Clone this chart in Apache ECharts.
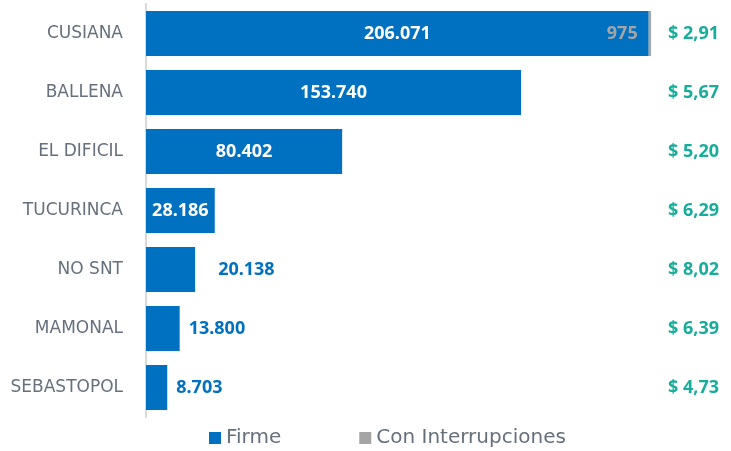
<!DOCTYPE html>
<html><head><meta charset="utf-8">
<script src="https://cdn.jsdelivr.net/npm/echarts@6/dist/echarts.min.js"></script>
<style>html,body{margin:0;padding:0;background:#fff}#c{width:731px;height:451px}</style>
</head><body><div id="c"></div>
<script>
const categories = ['CUSIANA','BALLENA','EL DIFICIL','TUCURINCA','NO SNT','MAMONAL','SEBASTOPOL'];
const firme = [206071, 153740, 80402, 28186, 20138, 13800, 8703];
const interrupciones = [975, null, null, null, null, null, null];
const prices = ['$ 2,91','$ 5,67','$ 5,20','$ 6,29','$ 8,02','$ 6,39','$ 4,73'];

const fmt = v => String(v).replace(/\B(?=(\d{3})+(?!\d))/g, '.');
const FONT = 'Noto Sans';
const TFONT = 'DejaVu Sans';
const chart = echarts.init(document.getElementById('c'));
chart.setOption({
  animation: false,
  textStyle: { fontFamily: FONT },
  grid: { left: 146, right: 71, top: 4, bottom: 34 },
  xAxis: { type: 'value', min: 0, max: 210700, show: false },
  yAxis: [
    { type: 'category', data: categories, inverse: true,
      axisLine: { show: true, lineStyle: { color: '#d9d9d9', width: 2 } },
      axisTick: { show: false },
      axisLabel: { color: '#66707c', fontSize: 17, margin: 23, fontFamily: TFONT } },
    { type: 'category', data: prices, inverse: true, position: 'right',
      axisLine: { show: false }, axisTick: { show: false },
      axisLabel: { color: '#17ad9b', fontSize: 18, fontWeight: 'bold', margin: 8, fontFamily: FONT } }
  ],
  legend: {
    bottom: 3, left: 209, padding: 0, icon: 'rect', itemWidth: 12, itemHeight: 12, itemGap: 78,
    textStyle: { color: '#66707c', fontSize: 20, fontFamily: TFONT },
    data: ['Firme', 'Con Interrupciones']
  },
  series: [
    { name: 'Firme', type: 'bar', stack: 't', barWidth: 45,
      itemStyle: { color: '#0070c0' },
      label: { show: true, position: 'inside', color: '#fff', fontWeight: 'bold', fontSize: 18,
               fontFamily: FONT, formatter: p => fmt(p.value) },
      data: firme.map((v, i) => v < 25000
        ? { value: v, label: { position: 'right', color: '#0070c0', distance: i === 4 ? 23 : 9 } }
        : v) },
    { name: 'Con Interrupciones', type: 'bar', stack: 't', barWidth: 45,
      itemStyle: { color: '#a5a5a5' },
      label: { show: true, position: 'left', distance: 11, color: '#a5a5a5', fontWeight: 'bold',
               fontSize: 18, fontFamily: FONT, formatter: p => p.value == null ? '' : fmt(p.value) },
      data: interrupciones }
  ]
});
</script></body></html>
